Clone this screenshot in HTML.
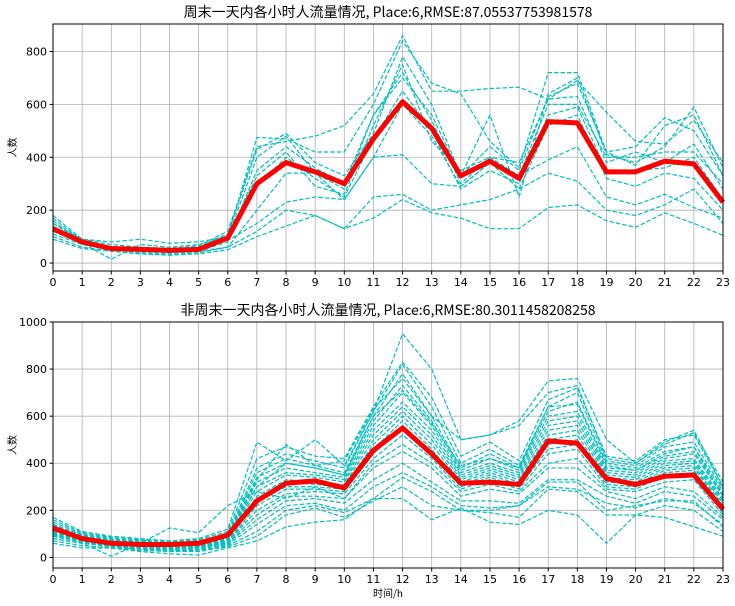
<!DOCTYPE html>
<html><head><meta charset="utf-8">
<style>
body{margin:0;background:#fff;}
svg{display:block;}
text{font-family:"DejaVu Sans","Liberation Sans",sans-serif;fill:#000;}
.t{font-family:"WenQuanYi Zen Hei","Noto Sans CJK SC",sans-serif;font-size:14px;}
.c{font-family:"WenQuanYi Zen Hei","Noto Sans CJK SC",sans-serif;font-size:10px;}
</style></head><body>
<svg id="chart" width="735" height="606" xmlns="http://www.w3.org/2000/svg"></svg>
<script>
const hours=[0,1,2,3,4,5,6,7,8,9,10,11,12,13,14,15,16,17,18,19,20,21,22,23];
const topTicks=[0,200,400,600,800];
const botTicks=[0,200,400,600,800,1000];
const topMean=[130,80,55,52,48,52,95,300,380,345,300,470,610,510,330,385,320,535,530,345,345,385,375,230];
const botMean=[125,80,60,55,55,60,95,240,315,325,295,455,550,440,315,320,310,495,485,335,310,345,350,205];
const topSeries=[
[180,90,80,90,75,80,100,475,470,420,420,600,840,680,640,460,360,720,720,420,440,550,500,330],
[150,85,60,55,50,60,110,430,490,380,330,490,780,600,330,560,250,640,700,410,380,440,590,360],
[130,80,50,45,40,50,90,350,440,360,300,560,720,540,300,400,380,620,630,380,420,380,450,280],
[110,70,50,40,35,45,80,290,400,320,250,470,650,500,280,350,300,560,590,350,350,360,400,240],
[100,60,45,35,30,40,60,200,340,340,240,400,600,480,290,380,280,520,560,320,290,340,320,200],
[120,75,15,70,60,70,100,330,420,290,260,520,750,460,350,400,330,600,600,400,400,420,420,300],
[160,80,60,50,45,55,85,150,230,250,240,400,410,300,290,380,330,390,440,250,220,260,210,170],
[140,75,55,50,40,45,60,120,200,180,130,250,260,200,220,240,280,340,310,200,180,220,280,150],
[90,55,45,35,30,35,50,100,140,180,130,170,240,190,170,130,130,210,220,160,135,190,150,105],
[170,85,55,50,45,55,95,400,480,340,280,560,700,560,330,440,350,630,680,420,370,520,560,330],
[150,90,70,60,55,65,120,440,460,480,520,640,860,650,650,660,665,620,690,570,460,450,540,380]
];
const botSeries=[
[170,110,90,80,70,80,120,490,410,500,390,620,950,800,500,520,580,750,760,500,400,480,530,320],
[160,105,85,75,65,75,110,420,470,430,420,640,830,680,430,490,410,670,720,430,410,500,520,300],
[150,100,80,70,60,70,100,380,440,410,380,620,820,640,400,460,390,640,700,410,390,470,490,290],
[140,95,75,65,60,65,95,360,420,390,360,600,780,600,380,440,380,620,660,400,380,450,470,280],
[135,90,70,60,55,60,90,340,400,380,350,580,730,580,370,420,370,600,620,380,370,430,450,270],
[130,90,70,60,55,60,85,320,380,360,340,560,700,560,360,400,360,580,600,370,360,420,440,260],
[125,85,65,55,50,55,80,300,360,350,330,540,660,540,350,390,350,560,580,360,350,410,420,250],
[120,80,60,55,50,55,80,280,350,340,320,520,640,520,340,380,340,540,560,350,340,400,410,240],
[115,80,60,50,45,50,75,260,330,320,310,500,620,500,330,370,330,520,540,340,330,390,400,230],
[110,75,55,50,45,50,70,250,320,310,300,480,600,480,320,360,320,500,520,330,320,380,390,220],
[105,75,55,50,45,50,70,240,300,300,290,460,580,460,310,350,310,480,500,320,310,370,380,210],
[100,70,50,45,40,45,65,220,290,290,280,440,560,440,300,340,300,460,480,310,300,360,370,200],
[95,70,50,45,40,45,65,200,270,280,270,420,520,420,290,330,290,440,460,300,290,350,360,190],
[90,65,50,45,40,45,60,180,260,260,250,400,480,400,280,310,280,400,420,290,280,320,330,180],
[80,60,5,60,125,105,220,280,250,300,250,380,450,380,260,290,270,380,380,280,250,300,280,170],
[100,70,50,40,35,40,60,160,240,250,230,330,400,320,240,240,230,330,330,260,230,280,260,160],
[90,65,45,40,30,35,55,140,220,230,200,300,360,300,220,210,220,300,290,230,210,250,230,140],
[80,60,45,35,30,30,50,110,200,220,190,250,340,280,200,200,220,320,320,200,220,240,240,130],
[70,50,40,30,25,25,45,90,180,210,170,240,300,220,200,190,170,290,280,180,180,220,200,110],
[60,40,40,25,15,10,40,70,130,150,160,250,250,160,210,150,140,200,180,60,180,170,130,90],
[140,95,75,65,55,60,90,330,480,390,410,630,760,600,500,520,560,700,730,420,400,490,540,300],
[120,85,60,55,50,55,85,300,400,380,350,600,710,570,390,420,380,640,650,390,370,440,470,260]
];
const S='http://www.w3.org/2000/svg';
const svg=document.getElementById('chart');
function el(t,a,p){const e=document.createElementNS(S,t);for(const k in a)e.setAttribute(k,a[k]);(p||svg).appendChild(e);return e;}
const X0=53,X1=723;
function xs(h){return X0+(X1-X0)*h/23;}
function panel(name,top,bot,ymin,ymax,ticks,series,mean,title,showX){
  const ys=v=>bot-(v-ymin)/(ymax-ymin)*(bot-top);
  const g=el('g',{});
  
  
  hours.forEach(h=>{el('line',{x1:xs(h),x2:xs(h),y1:top,y2:bot,stroke:'#b0b0b0','stroke-width':0.8},g);});
  ticks.forEach(t=>{el('line',{x1:X0,x2:X1,y1:ys(t),y2:ys(t),stroke:'#b0b0b0','stroke-width':0.8},g);});
  series.forEach(s=>{
    const p=el('polyline',{points:s.map((v,i)=>xs(hours[i])+','+ys(v)).join(' '),fill:'none',stroke:'#00bfbf','stroke-width':1.2,'stroke-dasharray':'4.5,2'},g);
    
    
  });
  const m=el('polyline',{points:mean.map((v,i)=>xs(hours[i])+','+ys(v)).join(' '),fill:'none',stroke:'#ff0000','stroke-width':5,'stroke-linejoin':'round'},g);
  
  
  el('rect',{x:X0,y:top,width:X1-X0,height:bot-top,fill:'none',stroke:'#000','stroke-width':1},g);
  hours.forEach(h=>{
    el('line',{x1:xs(h),x2:xs(h),y1:bot,y2:bot+3.5,stroke:'#000'},g);
    const t=el('text',{x:xs(h),y:bot+15,'text-anchor':'middle','font-size':11},g);t.textContent=h;
  });
  ticks.forEach(v=>{
    el('line',{x1:X0-3.5,x2:X0,y1:ys(v),y2:ys(v),stroke:'#000'},g);
    const t=el('text',{x:X0-6,y:ys(v)+4,'text-anchor':'end','font-size':11},g);t.textContent=v;
  });
  const tt=el('text',{x:(X0+X1)/2,y:top-7,'text-anchor':'middle',class:'t'},g);tt.textContent=title;
  
  const yl=el('text',{x:0,y:0,'text-anchor':'middle',class:'c',transform:`translate(${X0-37},${(top+bot)/2}) rotate(-90)`},g);yl.textContent='人数';
  
  if(showX){const xl=el('text',{x:(X0+X1)/2,y:bot+29,'text-anchor':'middle',class:'c'},g);xl.textContent='时间/h';
    }
}
panel('weekend-panel',24,271,-30,904,topTicks,topSeries,topMean,'周末一天内各小时人流量情况, Place:6,RMSE:87.05537753981578',false);
panel('weekday-panel',322,568,-45,1000,botTicks,botSeries,botMean,'非周末一天内各小时人流量情况, Place:6,RMSE:80.3011458208258',true);
</script>
</body></html>
